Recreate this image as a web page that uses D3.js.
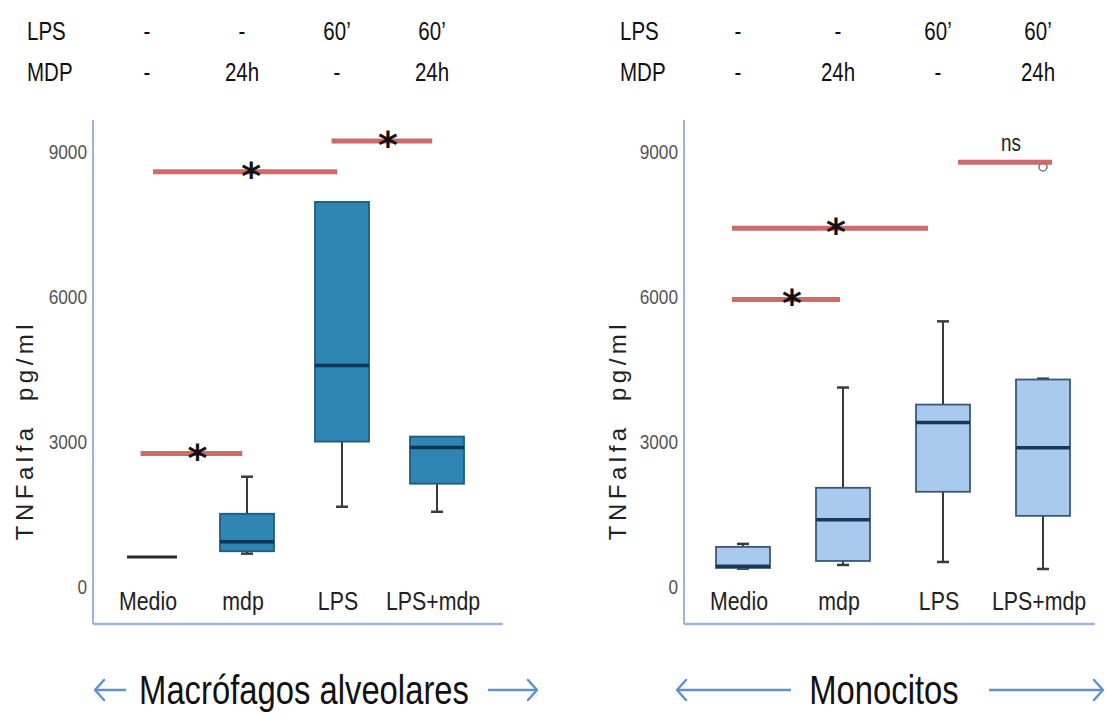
<!DOCTYPE html>
<html><head><meta charset="utf-8">
<script src="https://cdn.jsdelivr.net/npm/d3@7"></script>
<style>body{margin:0;background:#fff}</style>
</head><body><svg id="c" width="1107" height="717"></svg>
<script>
// ---- data ----
const categories = ["Medio", "mdp", "LPS", "LPS+mdp"];
const yTicks = [0, 3000, 6000, 9000];
const lpsRow = ["-", "-", "60\u2019", "60\u2019"];
const mdpRow = ["-", "24h", "-", "24h"];

// Macrófagos alveolares
const amMin    = [620, 690, 1660, 1556];
const amQ1     = [620, 740, 3008, 2137];
const amMedian = [620, 934, 4585, 2884];
const amQ3     = [620, 1515, 7967, 3112];
const amMax    = [620, 2282, 7967, 3112];
const amOutliers = [];
const amSigFrom  = [-0.12, 0.01, 1.89];
const amSigTo    = [0.95, 1.95, 2.95];
const amSigValue = [2760, 8590, 9230];
const amSigLabel = ["*", "*", "*"];

// Monocitos
const moMin    = [380, 456, 518, 373];
const moQ1     = [394, 539, 1970, 1472];
const moMedian = [430, 1389, 3401, 2883];
const moQ3     = [830, 2053, 3774, 4293];
const moMax    = [892, 4127, 5496, 4310];
const moOutliers = [{cat: 3, value: 8690}];
const moSigFrom  = [-0.11, -0.11, 2.15];
const moSigTo    = [0.97, 1.85, 3.09];
const moSigValue = [5950, 7420, 8790];
const moSigLabel = ["*", "*", "ns"];

// ---- drawing ----
const svg = d3.select("#c");
const y = d3.scaleLinear().domain([0, 9000]).range([587, 152]);
const SANS = "'Liberation Sans', Arial, sans-serif";
const SX = 0.82; // condensed look

function ntext(g, x, yy, str, size, opts = {}) {
  return g.append("text")
    .attr("transform", `translate(${x},${yy}) scale(${SX},1)`)
    .attr("text-anchor", opts.anchor || "middle").attr("dominant-baseline", "central")
    .style("font-family", SANS).style("font-size", size + "px")
    .attr("fill", opts.fill || "#111").text(str);
}

const panels = [
  {title: "Macrófagos alveolares", min: amMin, q1: amQ1, med: amMedian, q3: amQ3, max: amMax,
   out: amOutliers, sf: amSigFrom, st: amSigTo, sv: amSigValue, sl: amSigLabel,
   axisX: 93, axisEnd: 503, xr: [152, 437], fill: "#2f86b3", stroke: "#1f5d7e", medC: "#0d3550",
   headX: 27, ylabX: 24, titleX: 304, arrL: [126, 95], arrR: [488, 537]},
  {title: "Monocitos", min: moMin, q1: moQ1, med: moMedian, q3: moQ3, max: moMax,
   out: moOutliers, sf: moSigFrom, st: moSigTo, sv: moSigValue, sl: moSigLabel,
   axisX: 684, axisEnd: 1095, xr: [743, 1043], fill: "#a9c9ee", stroke: "#3c5876", medC: "#18385a",
   headX: 620, ylabX: 617, titleX: 884, arrL: [791, 677], arrR: [989, 1103]}
];

const boxW = 54;

panels.forEach(p => {
  const g = svg.append("g");
  const x = d3.scalePoint().domain(categories).range(p.xr);
  const xi = d3.scaleLinear().domain([0, categories.length - 1]).range(p.xr);

  // header rows
  [["LPS", lpsRow, 31], ["MDP", mdpRow, 72]].forEach(([lab, row, yy]) => {
    ntext(g, p.headX, yy, lab, 25, {anchor: "start"});
    row.forEach((d, i) => ntext(g, x(categories[i]) - 5, yy, d, 25));
  });

  // frame
  g.append("line").attr("x1", p.axisX).attr("x2", p.axisX).attr("y1", 120).attr("y2", 624)
    .attr("stroke", "#9db6d6").attr("stroke-width", 2);
  g.append("line").attr("x1", p.axisX).attr("x2", p.axisEnd).attr("y1", 624).attr("y2", 624)
    .attr("stroke", "#9db6d6").attr("stroke-width", 2.5);

  // y axis ticks
  const ax = g.append("g").attr("transform", `translate(${p.axisX},0)`)
    .call(d3.axisLeft(y).tickValues(yTicks).tickSize(0).tickPadding(5).tickFormat(d3.format("d")));
  ax.select(".domain").remove();
  ax.selectAll("text").style("font-family", SANS).style("font-size", "21px").attr("fill", "#555")
    .attr("x", -6 / SX).attr("transform", `scale(${SX},1)`);

  // y label
  g.append("text").attr("transform", `translate(${p.ylabX},430) rotate(-90)`)
    .attr("text-anchor", "middle").attr("dominant-baseline", "central")
    .style("font-family", SANS).style("font-size", "24px")
    .style("letter-spacing", "4.5px").attr("fill", "#222").text("TNFalfa\u00a0\u00a0pg/ml");

  // category labels
  categories.forEach(c => ntext(g, x(c) - 4, 601, c, 26, {fill: "#222"}));

  // boxes
  categories.forEach((c, i) => {
    const cx = x(c);
    const wc = "#3a3a3a";
    if (p.max[i] > p.q3[i]) {
      g.append("line").attr("x1", cx).attr("x2", cx).attr("y1", y(p.max[i])).attr("y2", y(p.q3[i]))
        .attr("stroke", wc).attr("stroke-width", 2);
      g.append("line").attr("x1", cx - 6).attr("x2", cx + 6).attr("y1", y(p.max[i])).attr("y2", y(p.max[i]))
        .attr("stroke", wc).attr("stroke-width", 2.5);
    }
    if (p.min[i] < p.q1[i]) {
      g.append("line").attr("x1", cx).attr("x2", cx).attr("y1", y(p.q1[i])).attr("y2", y(p.min[i]))
        .attr("stroke", wc).attr("stroke-width", 2);
      g.append("line").attr("x1", cx - 6).attr("x2", cx + 6).attr("y1", y(p.min[i])).attr("y2", y(p.min[i]))
        .attr("stroke", wc).attr("stroke-width", 2.5);
    }
    if (p.q3[i] > p.q1[i]) {
      g.append("rect").attr("x", cx - boxW / 2).attr("width", boxW)
        .attr("y", y(p.q3[i])).attr("height", y(p.q1[i]) - y(p.q3[i]))
        .attr("fill", p.fill).attr("stroke", p.stroke).attr("stroke-width", 1.8);
      g.append("line").attr("x1", cx - boxW / 2).attr("x2", cx + boxW / 2)
        .attr("y1", y(p.med[i])).attr("y2", y(p.med[i])).attr("stroke", p.medC).attr("stroke-width", 3.5);
    } else {
      g.append("line").attr("x1", cx - boxW / 2 + 2).attr("x2", cx + boxW / 2 - 2)
        .attr("y1", y(p.med[i])).attr("y2", y(p.med[i])).attr("stroke", "#2a2a2a").attr("stroke-width", 3);
    }
  });

  // outliers
  g.selectAll(null).data(p.out).join("circle")
    .attr("cx", d => x(categories[d.cat])).attr("cy", d => y(d.value)).attr("r", 4)
    .attr("fill", "none").attr("stroke", "#777").attr("stroke-width", 1.5);

  // significance bars
  p.sv.forEach((v, k) => {
    const x1 = xi(p.sf[k]), x2 = xi(p.st[k]);
    g.append("line").attr("x1", x1).attr("x2", x2).attr("y1", y(v)).attr("y2", y(v))
      .attr("stroke", "#cc6561").attr("stroke-width", 5).attr("opacity", 0.95);
    const mx = (x1 + x2) / 2 + 6;
    if (p.sl[k] === "*") {
      g.append("text").attr("x", mx).attr("y", y(v) + 17).attr("text-anchor", "middle")
        .style("font-family", "'DejaVu Sans', sans-serif").style("font-size", "38px")
        .style("font-weight", "bold").attr("fill", "#111").text("*");
    } else {
      ntext(g, mx, y(v) - 19, p.sl[k], 23, {fill: "#222"});
    }
  });

  // bottom title with arrows
  ntext(g, p.titleX, 690, p.title, 40, {fill: "#111"});
  const ac = "#5f93cc";
  [p.arrL, p.arrR].forEach(([a, b]) => {
    const dir = Math.sign(b - a);
    g.append("line").attr("x1", a).attr("x2", b).attr("y1", 690).attr("y2", 690)
      .attr("stroke", ac).attr("stroke-width", 2.5);
    g.append("path").attr("d", `M${b - dir * 9},680 L${b},690 L${b - dir * 9},700`)
      .attr("fill", "none").attr("stroke", ac).attr("stroke-width", 2.5).attr("stroke-linejoin", "round").attr("stroke-linecap", "round");
  });
});
</script></body></html>
